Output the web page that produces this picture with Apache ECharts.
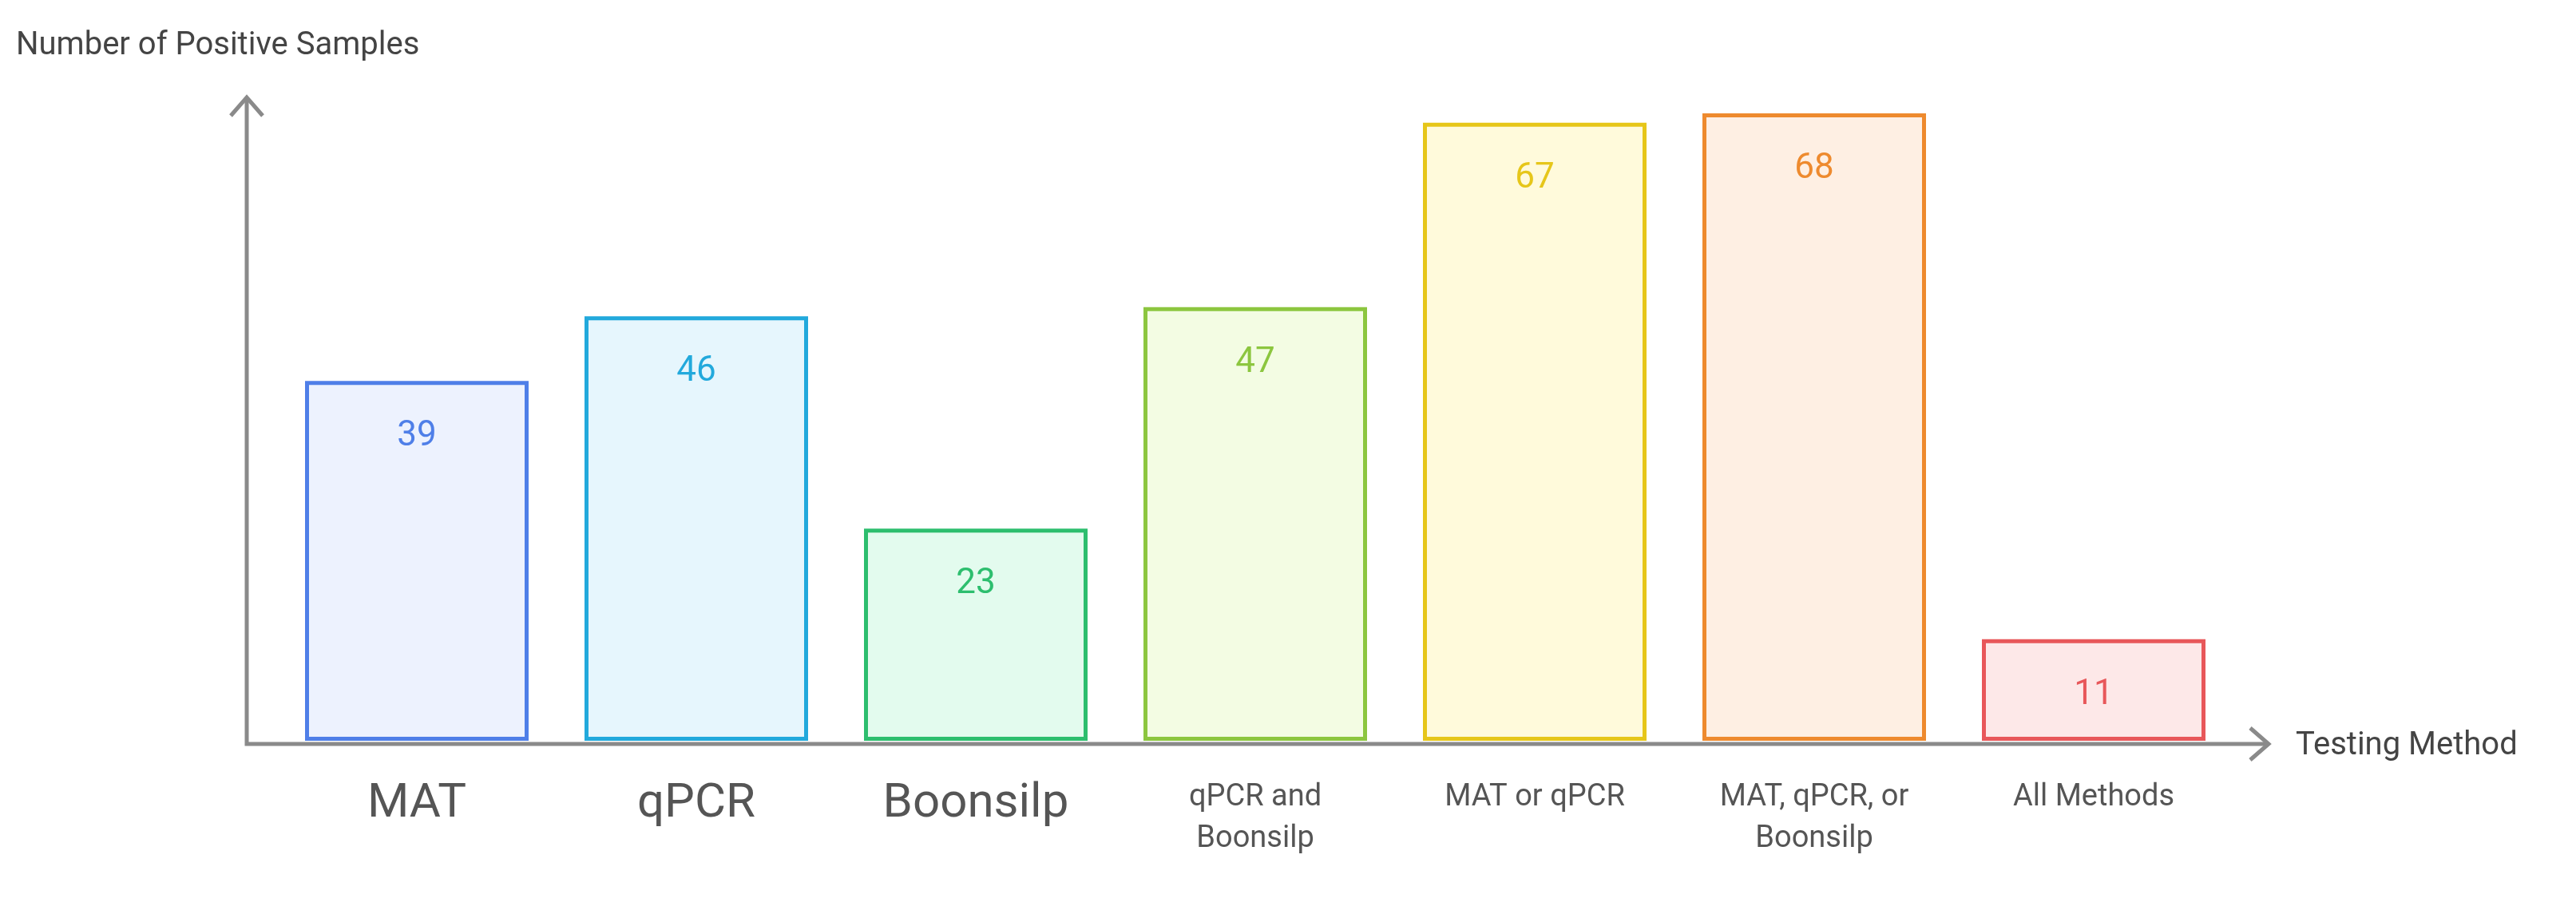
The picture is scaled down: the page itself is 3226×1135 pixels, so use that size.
<!DOCTYPE html>
<html>
<head>
<meta charset="utf-8">
<script src="https://cdn.jsdelivr.net/npm/echarts@6/dist/echarts.min.js"></script>
<style>html,body{margin:0;padding:0;background:#fff}#main{width:3226px;height:1135px}</style>
</head>
<body>
<div id="main"></div>
<script>
var categories = ['MAT', 'qPCR', 'Boonsilp', 'qPCR and\nBoonsilp', 'MAT or qPCR', 'MAT, qPCR, or\nBoonsilp', 'All Methods'];
var values = [39, 46, 23, 47, 67, 68, 11];
var lineColors = ['#4F7FE8', '#22A9DC', '#2DBE6E', '#8CC63F', '#E6C619', '#EE8A2E', '#E8575A'];
var fillColors = ['#EDF2FE', '#E6F6FD', '#E3FBEE', '#F3FCE3', '#FFFADB', '#FEEFE3', '#FDE8E8'];
var labelSizes = [60, 60, 60, 38, 38, 38, 38];

var myChart = echarts.init(document.getElementById('main'));
var axisGrey = '#8a8a8a';
var option = {
    animation: false,
    textStyle: { fontFamily: 'Roboto' },
    grid: { left: 347, width: 2450, top: 119, bottom: 207 },
    xAxis: {
        type: 'category',
        data: categories,
        axisLine: { show: false },
        axisTick: { show: false },
        axisLabel: {
            margin: 45,
            color: '#555',
            formatter: function (v, i) {
                var k = labelSizes[i] > 50 ? 'sb' : 'ss';
                return '{' + k + '|' + v.split('\n').join('}\n{' + k + '|') + '}';
            },
            rich: {
                sb: { fontSize: 60, color: '#555', lineHeight: 70 },
                ss: { fontSize: 38, color: '#555', lineHeight: 52 }
            }
        }
    },
    yAxis: {
        type: 'value', min: 0, max: 70,
        axisLine: { show: false }, axisTick: { show: false },
        axisLabel: { show: false }, splitLine: { show: false }
    },
    series: [{
        type: 'bar',
        barWidth: 280,
        data: values.map(function (v, i) {
            return {
                value: v,
                itemStyle: { color: fillColors[i], borderColor: lineColors[i], borderWidth: 5 },
                label: { color: lineColors[i] }
            };
        }),
        label: {
            show: true, position: 'insideTop', distance: 48,
            fontSize: 44
        }
    }],
    graphic: [
        { type: 'polyline', shape: { points: [[309, 125], [309, 932], [2840, 932]] }, style: { stroke: axisGrey, lineWidth: 5, fill: null } },
        { type: 'polyline', shape: { points: [[289, 145], [309, 122], [329, 145]] }, style: { stroke: axisGrey, lineWidth: 5, fill: null } },
        { type: 'polyline', shape: { points: [[2818, 912], [2841, 932], [2818, 952]] }, style: { stroke: axisGrey, lineWidth: 5, fill: null } },
        { type: 'text', left: 20, top: 38, style: { text: 'Number of Positive Samples', fontSize: 40, fill: '#444', fontFamily: 'Roboto' } },
        { type: 'text', left: 2875, top: 915, style: { text: 'Testing Method', fontSize: 40, fill: '#444', fontFamily: 'Roboto' } }
    ]
};
myChart.setOption(option);
</script>
</body>
</html>
